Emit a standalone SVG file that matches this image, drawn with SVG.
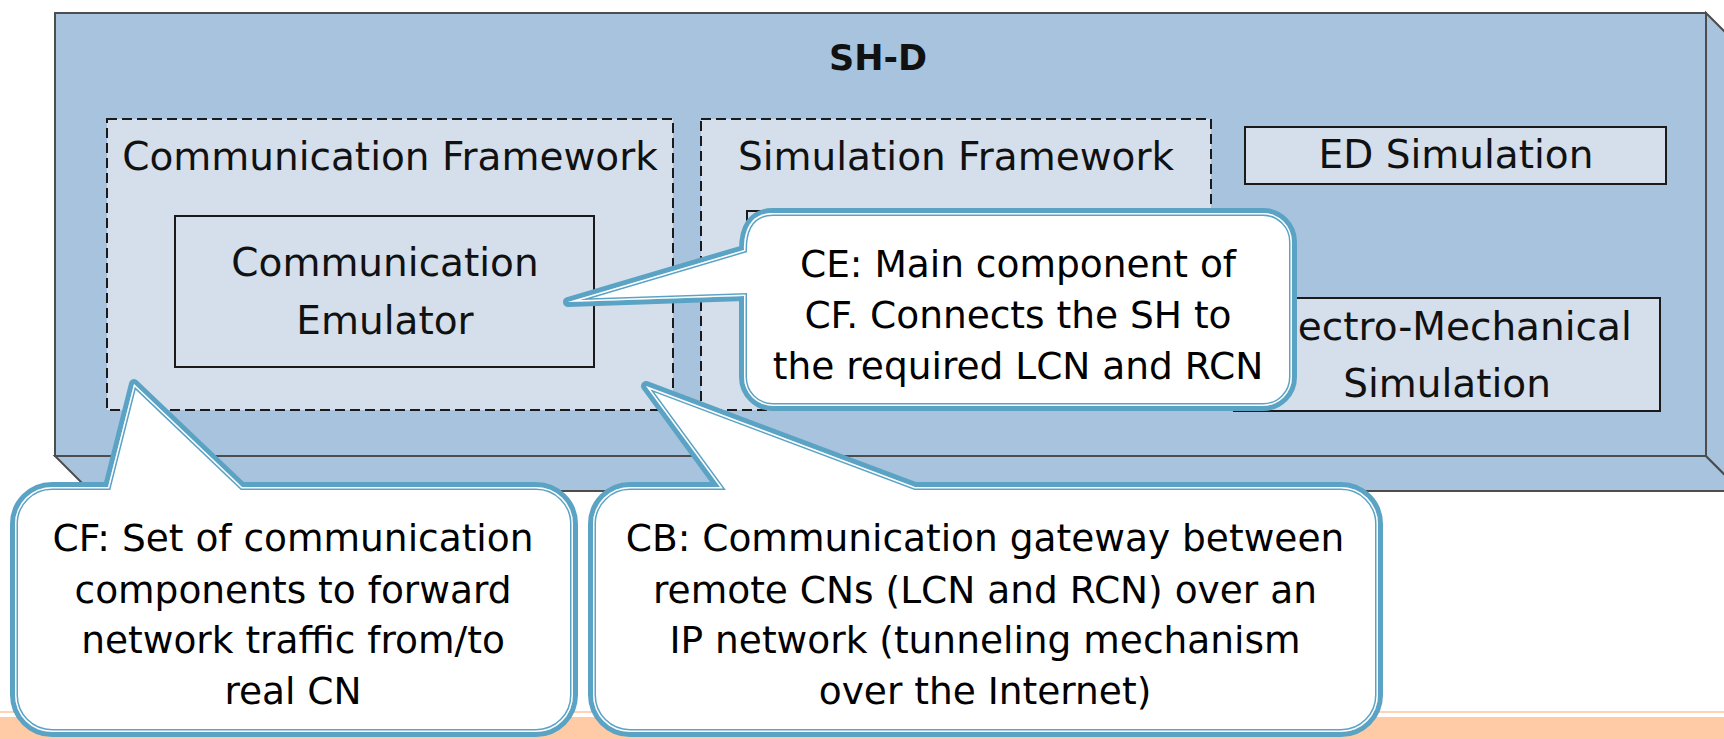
<svg xmlns="http://www.w3.org/2000/svg" xmlns:xlink="http://www.w3.org/1999/xlink" width="1724" height="739" viewBox="0 0 1724 739">
  <style>
    .box3d{fill:#A7C3DD;stroke:#4d4d4d;stroke-width:2;stroke-linejoin:miter}
    .frame{fill:#D4DFEB;stroke:#1a1a1a;stroke-width:2;stroke-dasharray:10 5}
    .comp{fill:#D4DFEB;stroke:#1a1a1a;stroke-width:2}
    .lbl{font-family:"DejaVu Sans","Liberation Sans",sans-serif;font-size:39px;fill:#111;text-anchor:middle}
    .title{font-family:"DejaVu Sans","Liberation Sans",sans-serif;font-size:35px;font-weight:bold;fill:#111;text-anchor:middle}
    .co{font-family:"DejaVu Sans","Liberation Sans",sans-serif;font-size:37.5px;fill:#000;text-anchor:middle}
    .co-base{fill:#fff;stroke:#5BA3C4;stroke-width:10;stroke-linejoin:round;paint-order:stroke}
    .co-in1{fill:none;stroke:#5BA3C4;stroke-width:6}
    .co-in2{fill:none;stroke:#fff;stroke-width:3}
  </style>
  <defs>
    <!-- callout outlines (line between outer band and inner white rule) -->
    <path id="p-ce" d="M 773,213 H 1263 A 29 29 0 0 1 1292,242 V 377 A 29 29 0 0 1 1263,406 H 773 A 29 29 0 0 1 744,377 V 296 L 568,302 L 744,250 C 744,228 752,213 773,213 Z"/>
    <path id="p-cf" d="M 52,487 H 108 L 134,384 L 242,487 H 536 A 37 37 0 0 1 573,524 V 695 A 37 37 0 0 1 536,732 H 52 A 37 37 0 0 1 15,695 V 524 A 37 37 0 0 1 52,487 Z"/>
    <path id="p-cb" d="M 630,487 H 720 L 646,386 L 915,487 H 1341 A 37 37 0 0 1 1378,524 V 695 A 37 37 0 0 1 1341,732 H 630 A 37 37 0 0 1 593,695 V 524 A 37 37 0 0 1 630,487 Z"/>
    <clipPath id="clip-ce"><use href="#p-ce"/></clipPath>
    <clipPath id="clip-cf"><use href="#p-cf"/></clipPath>
    <clipPath id="clip-cb"><use href="#p-cb"/></clipPath>
  </defs>

  <rect width="1724" height="739" fill="#fff"/>
  <!-- footer band -->
  <rect x="0" y="711" width="1724" height="2" fill="#FFD3B5"/>
  <rect x="0" y="717" width="1724" height="22" fill="#FFCBA6"/>

  <!-- SH-D container drawn as a box with depth -->
  <g id="shd">
    <polygon class="box3d" points="55,456 1706,456 1741,491 90,491"/>
    <polygon class="box3d" points="1706,13 1741,48 1741,491 1706,456"/>
    <rect class="box3d" x="55" y="13" width="1651" height="443"/>
    <text class="title" x="878" y="70">SH-D</text>
  </g>

  <g id="comm-framework">
    <rect class="frame" x="107" y="119" width="566" height="291"/>
    <text class="lbl" x="390" y="170">Communication Framework</text>
  </g>
  <g id="comm-emulator">
    <rect class="comp" x="175" y="216" width="419" height="151"/>
    <text class="lbl" x="385" y="276">Communication</text>
    <text class="lbl" x="385" y="334">Emulator</text>
  </g>

  <g id="sim-framework">
    <rect class="frame" x="701" y="119" width="510" height="291"/>
    <text class="lbl" x="956" y="170">Simulation Framework</text>
    <rect class="comp" x="747" y="211" width="419" height="151"/>
  </g>

  <g id="ed-simulation">
    <rect class="comp" x="1245" y="127" width="421" height="57"/>
    <text class="lbl" x="1456" y="168">ED Simulation</text>
  </g>

  <g id="em-simulation">
    <rect class="comp" x="1234" y="298" width="426" height="113"/>
    <text class="lbl" x="1447" y="340">Electro-Mechanical</text>
    <text class="lbl" x="1447" y="397">Simulation</text>
  </g>

  <!-- annotation callouts -->
  <g id="callout-ce">
    <use href="#p-ce" class="co-base"/>
    <g clip-path="url(#clip-ce)"><use href="#p-ce" class="co-in1"/><use href="#p-ce" class="co-in2"/></g>
    <text class="co" x="1018" y="277">CE: Main component of</text>
    <text class="co" x="1018" y="328">CF. Connects the SH to</text>
    <text class="co" x="1018" y="379">the required LCN and RCN</text>
  </g>

  <g id="callout-cf">
    <use href="#p-cf" class="co-base"/>
    <g clip-path="url(#clip-cf)"><use href="#p-cf" class="co-in1"/><use href="#p-cf" class="co-in2"/></g>
    <text class="co" x="293" y="551">CF: Set of communication</text>
    <text class="co" x="293" y="603">components to forward</text>
    <text class="co" x="293" y="653">network traffic from/to</text>
    <text class="co" x="293" y="704">real CN</text>
  </g>

  <g id="callout-cb">
    <use href="#p-cb" class="co-base"/>
    <g clip-path="url(#clip-cb)"><use href="#p-cb" class="co-in1"/><use href="#p-cb" class="co-in2"/></g>
    <text class="co" x="985" y="551">CB: Communication gateway between</text>
    <text class="co" x="985" y="603">remote CNs (LCN and RCN) over an</text>
    <text class="co" x="985" y="653">IP network (tunneling mechanism</text>
    <text class="co" x="985" y="704">over the Internet)</text>
  </g>
</svg>
